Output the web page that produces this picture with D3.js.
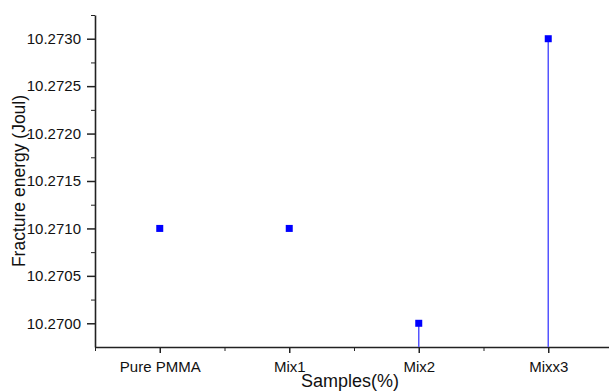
<!DOCTYPE html>
<html>
<head>
<meta charset="utf-8">
<script src="https://cdn.jsdelivr.net/npm/d3@7"></script>
<style>
  body { margin: 0; background: #fff; }
  svg { display: block; font-family: "Liberation Sans", Arial, sans-serif; }
  .axis path, .axis line { stroke: #222; }
  .axis text { fill: #111; font-size: 15px; font-family: "Liberation Sans", Arial, sans-serif; }
</style>
</head>
<body>
<div id="chart"></div>
<script>
// sample names and measured fracture energy
var samples = ["Pure PMMA", "Mix1", "Mix2", "Mixx3"];
var energy = [10.2710, 10.2710, 10.2700, 10.2730];
// only the last two points show a drop line in the original
var dropLine = [false, false, true, true];

var yTicks = [10.2700, 10.2705, 10.2710, 10.2715, 10.2720, 10.2725, 10.2730];
var yMinor = [10.27025, 10.27075, 10.27125, 10.27175, 10.27225, 10.27275, 10.27325];

var width = 609, height = 391;

var svg = d3.select("#chart").append("svg")
  .attr("width", width)
  .attr("height", height);

// positions 1..4 for the samples, half a step of padding on each side
var xScale = d3.scaleLinear().domain([0.5, 4.5]).range([95, 613]);
var yScale = d3.scaleLinear().domain([10.26975, 10.27325]).range([347, 15]);

// minor ticks first, major on top
svg.append("g")
  .attr("class", "axis")
  .attr("transform", "translate(95,0)")
  .call(d3.axisLeft(yScale).tickValues(yMinor).tickSize(4).tickSizeOuter(0).tickFormat(""))
  .select(".domain").attr("stroke-width", 1.6);

var yAxis = svg.append("g")
  .attr("class", "axis")
  .attr("transform", "translate(95,0)")
  .call(d3.axisLeft(yScale).tickValues(yTicks).tickSize(8).tickSizeOuter(0)
    .tickPadding(6).tickFormat(d3.format(".4f")));
yAxis.select(".domain").remove();
yAxis.selectAll("line").attr("stroke-width", 1.5);

svg.append("g")
  .attr("class", "axis")
  .attr("transform", "translate(0,347)")
  .call(d3.axisBottom(xScale).tickValues([0.5, 1.5, 2.5, 3.5, 4.5]).tickSize(4).tickSizeOuter(0).tickFormat(""))
  .select(".domain").attr("stroke-width", 1.6);

var xAxis = svg.append("g")
  .attr("class", "axis")
  .attr("transform", "translate(0,347)")
  .call(d3.axisBottom(xScale).tickValues([1, 2, 3, 4]).tickSize(6).tickSizeOuter(0)
    .tickPadding(8).tickFormat(function(d) { return samples[d - 1]; }));
xAxis.select(".domain").remove();
xAxis.selectAll("line").attr("stroke-width", 1.5);

// drop lines
svg.selectAll(".drop")
  .data(energy.map(function(v, i) { return {i: i, v: v}; }).filter(function(d) { return dropLine[d.i]; }))
  .enter().append("line")
  .attr("class", "drop")
  .attr("x1", function(d) { return xScale(d.i + 1); })
  .attr("x2", function(d) { return xScale(d.i + 1); })
  .attr("y1", function(d) { return yScale(d.v); })
  .attr("y2", yScale.range()[0])
  .attr("stroke", "#5555ff")
  .attr("stroke-width", 1.5);

// square markers
var s = 7;
svg.selectAll(".dot")
  .data(energy)
  .enter().append("rect")
  .attr("class", "dot")
  .attr("x", function(d, i) { return xScale(i + 1) - s / 2; })
  .attr("y", function(d) { return yScale(d) - s / 2; })
  .attr("width", s)
  .attr("height", s)
  .attr("fill", "#0000ff");

// axis titles
svg.append("text")
  .attr("transform", "translate(25,181) rotate(-90)")
  .attr("text-anchor", "middle")
  .style("font-size", "17.5px")
  .attr("fill", "#111")
  .text("Fracture energy (Joul)");

svg.append("text")
  .attr("x", 350)
  .attr("y", 387)
  .attr("text-anchor", "middle")
  .style("font-size", "18px")
  .attr("fill", "#111")
  .text("Samples(%)");
</script>
</body>
</html>
